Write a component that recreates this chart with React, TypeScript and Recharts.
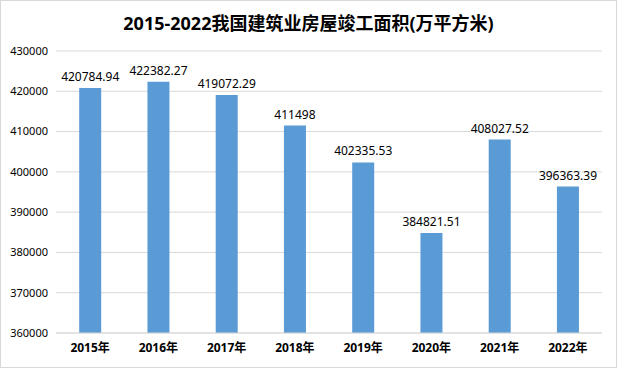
import React from "react";
import { BarChart, Bar, XAxis, YAxis, CartesianGrid, LabelList } from "recharts";

const years = ["2015年", "2016年", "2017年", "2018年", "2019年", "2020年", "2021年", "2022年"];
const areas = [420784.94, 422382.27, 419072.29, 411498, 402335.53, 384821.51, 408027.52, 396363.39];
const yTicks = [360000, 370000, 380000, 390000, 400000, 410000, 420000, 430000];
const title = "2015-2022我国建筑业房屋竣工面积(万平方米)";

const data = years.map((y, i) => ({ year: y, value: areas[i] }));

const FONT = '"Noto Sans", "Noto Sans CJK SC", sans-serif';

export default function App() {
  return (
    <div
      style={{
        position: "absolute",
        left: 0,
        top: 0,
        width: 617,
        height: 368,
        background: "#fff",
        fontFamily: FONT,
      }}
    >
      <div
        style={{
          position: "absolute",
          left: 0,
          top: 0,
          width: 615,
          height: 366,
          border: "1px solid #d9d9d9",
        }}
      />
      <div
        style={{
          position: "absolute",
          left: 0,
          top: 10,
          width: 617,
          textAlign: "center",
          fontSize: 18,
          fontWeight: 700,
          color: "#000",
          lineHeight: "26px",
          fontFamily: FONT,
        }}
      >
        {title}
      </div>
      <BarChart
        width={617}
        height={368}
        data={data}
        margin={{ top: 51, right: 15, bottom: 5, left: 0 }}
        barCategoryGap="34%"
        style={{ position: "absolute", left: 0, top: 0 }}
      >
        <CartesianGrid vertical={false} stroke="#d9d9d9" strokeWidth={1} />
        <XAxis
          dataKey="year"
          height={30}
          tickLine={false}
          axisLine={{ stroke: "#d9d9d9" }}
          tickMargin={4}
          tick={{ fontSize: 12, fontWeight: 700, fill: "#000", fontFamily: FONT }}
          interval={0}
        />
        <YAxis
          width={56}
          domain={[360000, 430000]}
          ticks={yTicks}
          allowDataOverflow
          tickLine={false}
          axisLine={false}
          tick={{ fontSize: 11, fill: "#000", fontFamily: FONT }}
          interval={0}
        />
        <Bar dataKey="value" fill="#5B9BD5" isAnimationActive={false}>
          <LabelList
            dataKey="value"
            position="top"
            offset={7}
            style={{ fontSize: 12, fill: "#000", fontFamily: FONT }}
          />
        </Bar>
      </BarChart>
    </div>
  );
}
